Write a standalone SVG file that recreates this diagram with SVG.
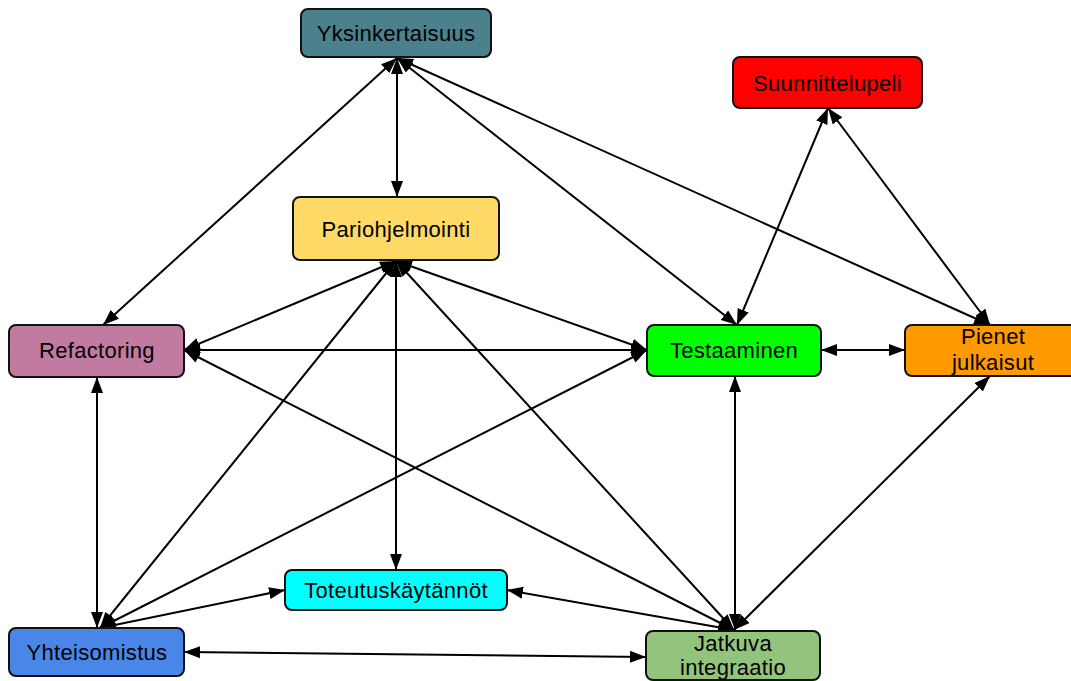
<svg xmlns="http://www.w3.org/2000/svg" width="1071" height="681" viewBox="0 0 1071 681">
  <style>
    .node rect { stroke: #111; stroke-width: 2; }
    .node text { font-family: "Liberation Sans", Arial, sans-serif; font-size: 22px; letter-spacing: 0.3px; fill: #000; text-anchor: middle; }
    .edges line { stroke: #000; stroke-width: 2; marker-start: url(#head); marker-end: url(#head); }
  </style>
  <defs>
    <marker id="head" markerUnits="userSpaceOnUse" markerWidth="17" markerHeight="13" refX="16" refY="6.5" orient="auto-start-reverse" viewBox="0 0 17 13">
      <path d="M0,0.5 L16,6.5 L0,12.5 z" fill="#000"/>
    </marker>
  </defs>

  <rect width="1071" height="681" fill="#fff"/>

  <!-- connectors -->
  <g class="edges">
    <line x1="397" y1="58" x2="103" y2="325"/>
    <line x1="397" y1="58" x2="397" y2="197"/>
    <line x1="397" y1="58" x2="737" y2="325"/>
    <line x1="397" y1="58" x2="990" y2="325"/>
    <line x1="828" y1="108" x2="737" y2="325"/>
    <line x1="828" y1="108" x2="990" y2="325"/>
    <line x1="396" y1="261" x2="184" y2="350"/>
    <line x1="396" y1="261" x2="647" y2="350"/>
    <line x1="396" y1="261" x2="100" y2="628"/>
    <line x1="396" y1="261" x2="396" y2="570"/>
    <line x1="396" y1="261" x2="734" y2="630"/>
    <line x1="184" y1="350" x2="647" y2="350"/>
    <line x1="184" y1="350" x2="734" y2="630"/>
    <line x1="97" y1="377" x2="97" y2="628"/>
    <line x1="821" y1="350" x2="905" y2="350"/>
    <line x1="735" y1="376" x2="735" y2="630"/>
    <line x1="647" y1="350" x2="100" y2="628"/>
    <line x1="100" y1="628" x2="285" y2="590"/>
    <line x1="184" y1="652" x2="646" y2="657"/>
    <line x1="734" y1="630" x2="507" y2="590"/>
    <line x1="734" y1="630" x2="990" y2="376"/>
  </g>

  <g id="yksinkertaisuus" class="node">
    <rect x="301" y="9" width="190" height="48" rx="7" fill="#4a818d"/>
    <text x="396" y="41">Yksinkertaisuus</text>
  </g>
  <g id="suunnittelupeli" class="node">
    <rect x="733" y="57" width="189" height="51" rx="7" fill="#ff0000"/>
    <text x="827.5" y="91">Suunnittelupeli</text>
  </g>
  <g id="pariohjelmointi" class="node">
    <rect x="293" y="197" width="206" height="63" rx="7" fill="#ffd966"/>
    <text x="396" y="237">Pariohjelmointi</text>
  </g>
  <g id="refactoring" class="node">
    <rect x="9" y="325" width="175" height="52" rx="7" fill="#c27ba0"/>
    <text x="97" y="358">Refactoring</text>
  </g>
  <g id="testaaminen" class="node">
    <rect x="647" y="325" width="174" height="51" rx="7" fill="#00ff00"/>
    <text x="734" y="358">Testaaminen</text>
  </g>
  <g id="pienet-julkaisut" class="node">
    <rect x="905" y="325" width="176" height="51" rx="7" fill="#ff9900"/>
    <text x="993" y="344">Pienet</text>
    <text x="993" y="370">julkaisut</text>
  </g>
  <g id="toteutuskaytannot" class="node">
    <rect x="285" y="570" width="222" height="40" rx="7" fill="#00ffff"/>
    <text x="396" y="598">Toteutuskäytännöt</text>
  </g>
  <g id="yhteisomistus" class="node">
    <rect x="9" y="628" width="175" height="48" rx="7" fill="#4a86e8"/>
    <text x="97" y="660">Yhteisomistus</text>
  </g>
  <g id="jatkuva-integraatio" class="node">
    <rect x="646" y="631" width="174" height="49" rx="7" fill="#93c47d"/>
    <text x="733" y="651">Jatkuva</text>
    <text x="733" y="675">integraatio</text>
  </g>
</svg>
